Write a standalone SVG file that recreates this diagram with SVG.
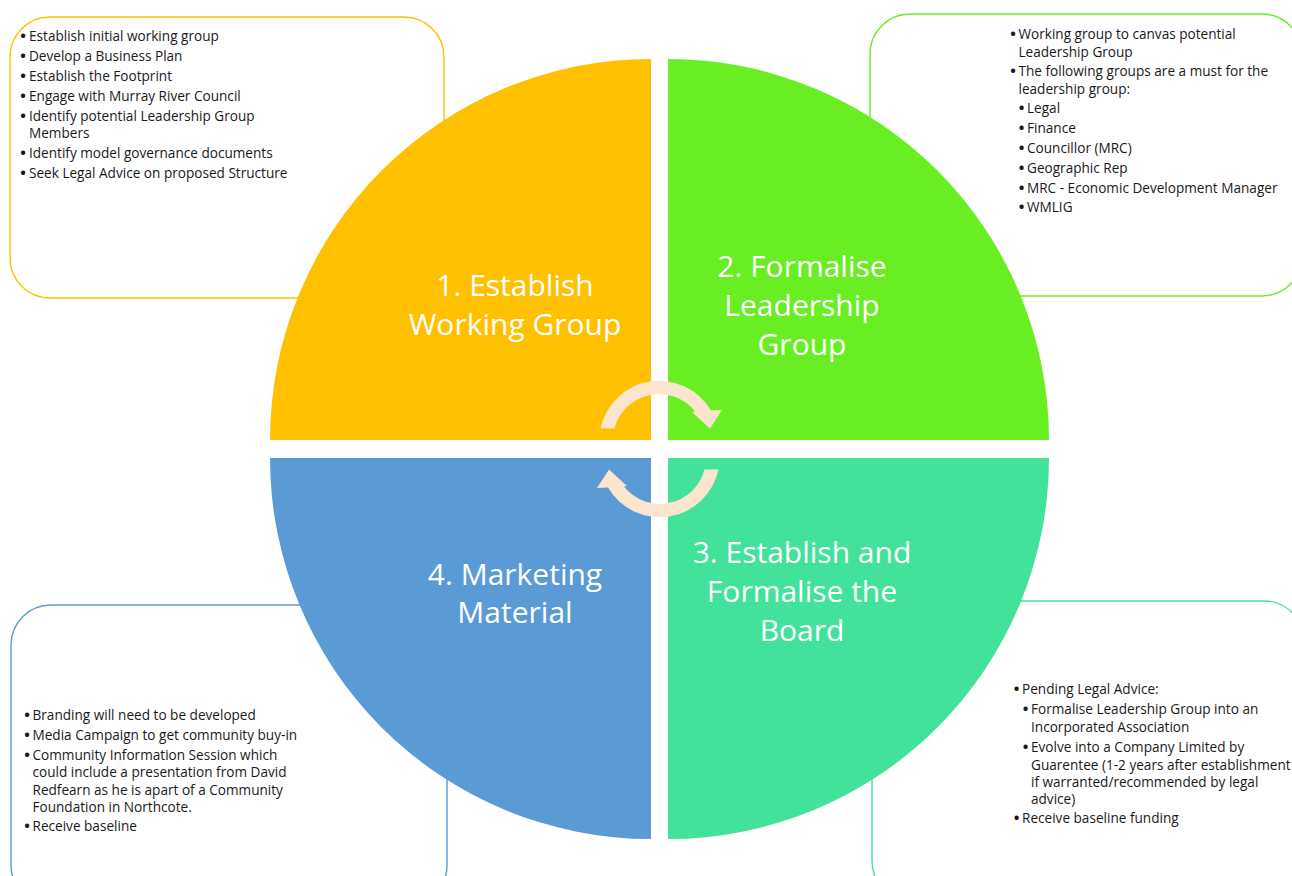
<svg xmlns="http://www.w3.org/2000/svg" width="1292" height="876" viewBox="0 0 1292 876">
  <style>
    .box { fill: #FFFFFF; stroke-width: 1.4; }
    .note { font-family: "Open Sans", "Liberation Sans", sans-serif; font-size: 13.6px; fill: #1A1A1A; }
    .dot { font-family: "Open Sans", "Liberation Sans", sans-serif; font-size: 15px; font-weight: bold; fill: #1A1A1A; text-anchor: middle; }
    .title { font-family: "Open Sans", "Liberation Sans", sans-serif; font-size: 30px; fill: #FFFFFF; text-anchor: middle; }
    .cycle { fill: #FCE5CF; }
  </style>

  <rect width="1292" height="876" fill="#FFFFFF"/>

  <!-- detail boxes sit behind the wheel -->
  <g id="note-1">
    <rect class="box" x="10" y="17" width="434" height="281" rx="40" stroke="#FFC000"/>
    <text class="dot" x="23" y="41">•</text><text class="note" x="29" y="41">Establish initial working group</text>
    <text class="dot" x="23" y="61">•</text><text class="note" x="29" y="61">Develop a Business Plan</text>
    <text class="dot" x="23" y="80.5">•</text><text class="note" x="29" y="80.5">Establish the Footprint</text>
    <text class="dot" x="23" y="100.5">•</text><text class="note" x="29" y="100.5">Engage with Murray River Council</text>
    <text class="dot" x="23" y="120.5">•</text><text class="note" x="29" y="120.5">Identify potential Leadership Group</text>
    <text class="note" x="29" y="137.5">Members</text>
    <text class="dot" x="23" y="157.5">•</text><text class="note" x="29" y="157.5">Identify model governance documents</text>
    <text class="dot" x="23" y="177.5">•</text><text class="note" x="29" y="177.5">Seek Legal Advice on proposed Structure</text>
  </g>

  <g id="note-2">
    <rect class="box" x="870" y="14" width="432" height="282" rx="40" stroke="#66EE22"/>
    <text class="dot" x="1013" y="39">•</text><text class="note" x="1018.5" y="39">Working group to canvas potential</text>
    <text class="note" x="1018.5" y="56.5">Leadership Group</text>
    <text class="dot" x="1013" y="76">•</text><text class="note" x="1018.5" y="76">The following groups are a must for the</text>
    <text class="note" x="1018.5" y="93.5">leadership group:</text>
    <text class="dot" x="1021.5" y="112.5">•</text><text class="note" x="1027" y="112.5">Legal</text>
    <text class="dot" x="1021.5" y="132.5">•</text><text class="note" x="1027" y="132.5">Finance</text>
    <text class="dot" x="1021.5" y="152.5">•</text><text class="note" x="1027" y="152.5">Councillor (MRC)</text>
    <text class="dot" x="1021.5" y="172.5">•</text><text class="note" x="1027" y="172.5">Geographic Rep</text>
    <text class="dot" x="1021.5" y="192.5">•</text><text class="note" x="1027" y="192.5">MRC - Economic Development Manager</text>
    <text class="dot" x="1021.5" y="212">•</text><text class="note" x="1027" y="212">WMLIG</text>
  </g>

  <g id="note-3">
    <rect class="box" x="872" y="601" width="432" height="300" rx="40" stroke="#43E29B"/>
    <text class="dot" x="1016.5" y="694">•</text><text class="note" x="1022" y="694">Pending Legal Advice:</text>
    <text class="dot" x="1025.5" y="714">•</text><text class="note" x="1031" y="714">Formalise Leadership Group into an</text>
    <text class="note" x="1031" y="731.5">Incorporated Association</text>
    <text class="dot" x="1025.5" y="751.5">•</text><text class="note" x="1031" y="751.5">Evolve into a Company Limited by</text>
    <text class="note" x="1031" y="769.5">Guarentee (1-2 years after establishment</text>
    <text class="note" x="1031" y="786.5">if warranted/recommended by legal</text>
    <text class="note" x="1031" y="803.5">advice)</text>
    <text class="dot" x="1016.5" y="822.5">•</text><text class="note" x="1022" y="822.5">Receive baseline funding</text>
  </g>

  <g id="note-4">
    <rect class="box" x="11" y="605" width="436" height="300" rx="40" stroke="#5B9BD5"/>
    <text class="dot" x="27" y="720">•</text><text class="note" x="32.5" y="720">Branding will need to be developed</text>
    <text class="dot" x="27" y="740">•</text><text class="note" x="32.5" y="740">Media Campaign to get community buy-in</text>
    <text class="dot" x="27" y="760">•</text><text class="note" x="32.5" y="760">Community Information Session which</text>
    <text class="note" x="32.5" y="777">could include a presentation from David</text>
    <text class="note" x="32.5" y="794.5">Redfearn as he is apart of a Community</text>
    <text class="note" x="32.5" y="812">Foundation in Northcote.</text>
    <text class="dot" x="27" y="831">•</text><text class="note" x="32.5" y="831">Receive baseline</text>
  </g>

  <!-- the four quarter segments of the wheel -->
  <g id="stage-1">
    <path d="M651,440 L270,440 A381,381 0 0 1 651,59 Z" fill="#FFC000"/>
    <text class="title" x="515" y="296">1. Establish</text>
    <text class="title" x="515" y="335">Working Group</text>
  </g>

  <g id="stage-2">
    <path d="M668,440 L668,59 A381,381 0 0 1 1049,440 Z" fill="#69EE23"/>
    <text class="title" x="802" y="277">2. Formalise</text>
    <text class="title" x="802" y="316">Leadership</text>
    <text class="title" x="802" y="355">Group</text>
  </g>

  <g id="stage-3">
    <path d="M668,458 L1049,458 A381,381 0 0 1 668,839 Z" fill="#43E29B"/>
    <text class="title" x="802" y="563">3. Establish and</text>
    <text class="title" x="802" y="602">Formalise the</text>
    <text class="title" x="802" y="641">Board</text>
  </g>

  <g id="stage-4">
    <path d="M651,458 L651,839 A381,381 0 0 1 270,458 Z" fill="#5B9BD5"/>
    <text class="title" x="515" y="585">4. Marketing</text>
    <text class="title" x="515" y="623">Material</text>
  </g>

  <!-- circular arrows in the centre of the wheel -->
  <g id="connectors">
    <defs>
      <path id="turn" d="M600.5,428.5 A60,60 0 0 1 711,410.5 L722,410 L710,428.5 L692,412 L695,411.5 A46,46 0 0 0 614.5,428.5 Z"/>
    </defs>
    <use href="#turn" class="cycle"/>
    <use href="#turn" class="cycle" transform="rotate(180 659.5 449)"/>
  </g>
</svg>
